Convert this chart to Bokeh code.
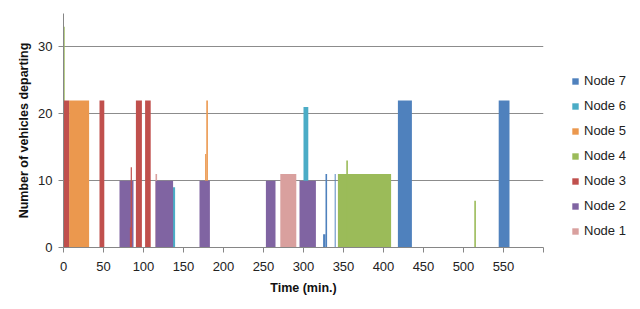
from bokeh.plotting import figure
from bokeh.models import ColumnDataSource, Range1d, FixedTicker, Legend, LegendItem
from bokeh.embed import file_html
from bokeh.resources import INLINE

# ---- data (time in minutes, vehicles departing) ----
node1_start = [115, 271]
node1_end = [117, 291]
node1_count = [11, 11]

node2_start = [70, 115, 170, 253, 295]
node2_end = [87.5, 137, 183, 265, 315.5]
node2_count = [10, 10, 10, 10, 10]

node3_start = [0, 45, 83, 84, 90.5, 102]
node3_end = [7, 51, 85.5, 85.5, 98, 109]
node3_count = [22, 22, 3, 12, 22, 22]

node4_start = [0, 343, 353.5, 513.5]
node4_end = [1.5, 409.5, 355.5, 515.5]
node4_count = [33, 11, 13, 7]

node5_start = [7, 177, 178.5]
node5_end = [32, 178.5, 180.5]
node5_count = [22, 14, 22]

node6_start = [136.7, 300]
node6_end = [139.5, 306]
node6_count = [9, 21]

node7_start = [324.5, 327.5, 339, 418, 544]
node7_end = [327.5, 329.5, 340.2, 435.5, 557.5]
node7_count = [2, 11, 11, 22, 22]

x_ticks = [0, 50, 100, 150, 200, 250, 300, 350, 400, 450, 500, 550, 600]
y_ticks = [0, 10, 20, 30]

nodes = {
    "Node 1": (node1_start, node1_end, node1_count, "#D9A09E"),
    "Node 2": (node2_start, node2_end, node2_count, "#8064A2"),
    "Node 3": (node3_start, node3_end, node3_count, "#C0504D"),
    "Node 4": (node4_start, node4_end, node4_count, "#9BBB59"),
    "Node 5": (node5_start, node5_end, node5_count, "#EB984E"),
    "Node 6": (node6_start, node6_end, node6_count, "#4BACC6"),
    "Node 7": (node7_start, node7_end, node7_count, "#4F81BD"),
}
draw_order = ["Node 1", "Node 6", "Node 5", "Node 4", "Node 2", "Node 3", "Node 7"]
legend_order = ["Node 7", "Node 6", "Node 5", "Node 4", "Node 3", "Node 2", "Node 1"]

FONT = "Liberation Sans"

p = figure(frame_width=480, frame_height=234, output_backend="svg", toolbar_location=None,
           x_range=Range1d(0, 600), y_range=Range1d(0, 35),
           min_border_left=63, min_border_right=81, min_border_top=13, min_border_bottom=46)
p.outline_line_color = None
p.background_fill_color = "white"
p.border_fill_color = "white"

renderers = {}
for name in draw_order:
    s, e, c, col = nodes[name]
    src = ColumnDataSource(dict(left=s, right=e, top=c, bottom=[0] * len(c)))
    r = p.quad(left="left", right="right", top="top", bottom="bottom", source=src,
               fill_color=col, line_color=None)
    renderers[name] = r

# axes
p.xaxis.ticker = FixedTicker(ticks=x_ticks)
p.xaxis.major_label_overrides = {600: ""}
p.yaxis.ticker = FixedTicker(ticks=y_ticks)
for ax in (p.xaxis, p.yaxis):
    ax.axis_line_color = "#868686"
    ax.major_tick_line_color = "#868686"
    ax.major_tick_out = 5
    ax.major_tick_in = 0
    ax.minor_tick_line_color = None
    ax.major_label_text_font = FONT
    ax.major_label_text_font_size = "13px"
    ax.major_label_text_color = "#222222"
    ax.axis_label_text_font = FONT
    ax.axis_label_text_font_size = "12.5px"
    ax.axis_label_text_font_style = "bold"
    ax.axis_label_text_color = "#111111"
p.xaxis.axis_label = "Time (min.)"
p.yaxis.axis_label = "Number of vehicles departing"
p.xaxis.major_label_standoff = 9
p.yaxis.major_label_standoff = 6
p.xaxis.axis_label_standoff = 7
p.yaxis.axis_label_standoff = 4

p.xgrid.grid_line_color = None
p.ygrid.ticker = FixedTicker(ticks=y_ticks)
p.ygrid.grid_line_color = "#8c8c8c"

legend = Legend(items=[LegendItem(label=n, renderers=[renderers[n]]) for n in legend_order],
                location=(28, 9), orientation="vertical",
                glyph_width=8, glyph_height=8, label_height=13, spacing=10,
                label_standoff=5, padding=0, margin=0,
                border_line_color=None, background_fill_alpha=0,
                label_text_font=FONT, label_text_font_size="13px",
                label_text_color="#222222")
p.add_layout(legend, "right")

open("out.html", "w").write(file_html(p, INLINE))
